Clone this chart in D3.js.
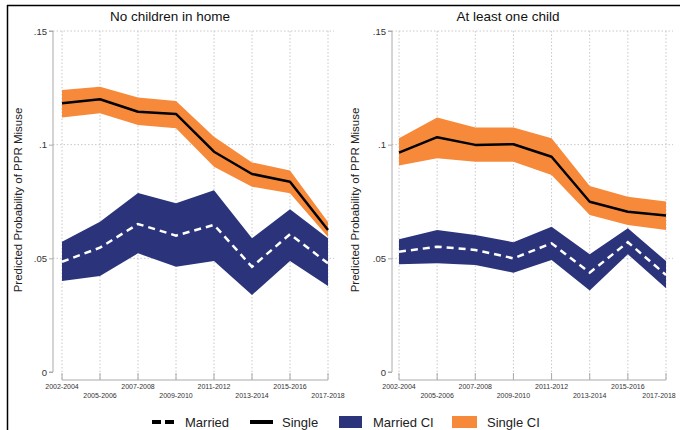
<!DOCTYPE html>
<html><head><meta charset="utf-8">
<script src="https://cdn.jsdelivr.net/npm/d3@7"></script>
<style>body{margin:0;background:#fff}svg{display:block}</style>
</head><body>
<svg id="c" width="680" height="430"></svg>
<script>
const periods = ["2002-2004","2005-2006","2007-2008","2009-2010","2011-2012","2013-2014","2015-2016","2017-2018"];
const yTicks = [0, 0.05, 0.1, 0.15];
const yTickLabels = ["0", ".05", ".1", ".15"];
const panelTitles = ["No children in home", "At least one child"];
const yLabel = "Predicted Probability of PPR Misuse";

// Panel 1: No children in home
const noChildSingle   = [0.1182,0.1200,0.1145,0.1135,0.0969,0.0871,0.0837,0.0625];
const noChildSingleHi = [0.1240,0.1255,0.1207,0.1192,0.1035,0.0922,0.0886,0.0660];
const noChildSingleLo = [0.1120,0.1138,0.1087,0.1072,0.0903,0.0815,0.0786,0.0594];
const noChildMarried   = [0.0485,0.0547,0.0651,0.0600,0.0647,0.0463,0.0606,0.0478];
const noChildMarriedHi = [0.0573,0.0661,0.0787,0.0742,0.0800,0.0588,0.0716,0.0588];
const noChildMarriedLo = [0.0400,0.0422,0.0522,0.0463,0.0488,0.0339,0.0488,0.0378];

// Panel 2: At least one child
const childSingle   = [0.0965,0.1033,0.0999,0.1002,0.0947,0.0749,0.0705,0.0688];
const childSingleHi = [0.1028,0.1120,0.1075,0.1075,0.1028,0.0818,0.0771,0.0750];
const childSingleLo = [0.0908,0.0940,0.0925,0.0925,0.0867,0.0691,0.0647,0.0625];
const childMarried   = [0.0529,0.0551,0.0537,0.0500,0.0566,0.0437,0.0571,0.0427];
const childMarriedHi = [0.0584,0.0625,0.0603,0.0571,0.0639,0.0518,0.0632,0.0488];
const childMarriedLo = [0.0474,0.0478,0.0471,0.0437,0.0493,0.0358,0.0518,0.0368];

const legendLabels = ["Married","Single","Married CI","Single CI"];
const NAVY = "#2b347a", ORANGE = "#f68a3a";

const svg = d3.select("#c");
const FONT = "Liberation Sans, Arial, sans-serif";

// frame
svg.append("line").attr("x1",7).attr("x2",680).attr("y1",5.5).attr("y2",5.5).attr("stroke","#000").attr("stroke-width",1.5);
svg.append("line").attr("x1",7.5).attr("x2",7.5).attr("y1",5).attr("y2",430).attr("stroke","#000").attr("stroke-width",1.5);

const panels = [
  {x0:62, x1:328, axisX:53, gridR:334, labelX:18, titleX:170,
   s:noChildSingle, sh:noChildSingleHi, sl:noChildSingleLo, m:noChildMarried, mh:noChildMarriedHi, ml:noChildMarriedLo},
  {x0:399, x1:666, axisX:392, gridR:673, labelX:355, titleX:508,
   s:childSingle, sh:childSingleHi, sl:childSingleLo, m:childMarried, mh:childMarriedHi, ml:childMarriedLo}
];

const y = d3.scaleLinear().domain([0,0.15]).range([372,31]);

panels.forEach((p,pi)=>{
  const x = d3.scalePoint().domain(periods).range([p.x0,p.x1]);
  const g = svg.append("g");
  // grid
  g.selectAll(".hg").data(yTicks.filter(d=>d>0)).join("line")
    .attr("x1",p.axisX).attr("x2",p.gridR).attr("y1",d=>y(d)).attr("y2",d=>y(d))
    .attr("stroke","#c8c8c8").attr("stroke-width",1).attr("stroke-dasharray","1.5,2");
  g.selectAll(".vg").data(periods).join("line")
    .attr("x1",d=>x(d)).attr("x2",d=>x(d)).attr("y1",y(0.15)).attr("y2",380)
    .attr("stroke","#c8c8c8").attr("stroke-width",1).attr("stroke-dasharray","1.5,2");

  const idx = d3.range(periods.length);
  const area = (hi,lo)=>d3.area().x(i=>x(periods[i])).y0(i=>y(lo[i])).y1(i=>y(hi[i]))(idx);
  const line = (v)=>d3.line().x(i=>x(periods[i])).y(i=>y(v[i]))(idx);

  g.append("path").attr("d",area(p.sh,p.sl)).attr("fill",ORANGE);
  g.append("path").attr("d",area(p.mh,p.ml)).attr("fill",NAVY);
  g.append("path").attr("d",line(p.s)).attr("fill","none").attr("stroke","#000").attr("stroke-width",2.5).attr("stroke-linejoin","round");
  g.append("path").attr("d",line(p.m)).attr("fill","none").attr("stroke","#fff").attr("stroke-width",2.5).attr("stroke-dasharray","7,5");

  // y axis
  const ya = d3.axisLeft(y).tickValues(yTicks).tickFormat((d,i)=>yTickLabels[i]).tickSize(4).tickPadding(2);
  const yg = g.append("g").attr("transform",`translate(${p.axisX},0)`).call(ya);
  yg.select(".domain").attr("stroke","#aaa").attr("d",`M-4,${y(0.15)}H0V${y(0)}H-4`);
  yg.selectAll(".tick line").attr("stroke","#aaa");
  yg.selectAll("text").attr("font-family",FONT).attr("font-size",9.5).attr("fill","#333");

  // x axis
  const xa = d3.axisBottom(x).tickSize(0).tickFormat("");
  const xg = g.append("g").attr("transform","translate(0,380)").call(xa);
  xg.select(".domain").attr("stroke","#aaa").attr("d",`M${p.x0},0H${p.x1}`);
  g.selectAll(".xt").data(periods).join("line")
    .attr("x1",d=>x(d)).attr("x2",d=>x(d)).attr("y1",373).attr("y2",380).attr("stroke","#aaa");
  g.selectAll(".xl").data(periods).join("text")
    .attr("x",d=>Math.min(x(d), 659)).attr("y",(d,i)=> i%2===0 ? 389 : 398)
    .attr("text-anchor","middle").attr("font-family",FONT).attr("font-size",7)
    .attr("fill","#333").text(d=>d);

  // title
  g.append("text").attr("x",p.titleX).attr("y",21).attr("text-anchor","middle")
    .attr("font-family",FONT).attr("font-size",13.5).attr("fill","#111").text(panelTitles[pi]);
  // y label
  g.append("text").attr("transform",`translate(${p.labelX},200) rotate(-90)`).attr("text-anchor","middle")
    .attr("dy","0.35em").attr("font-family",FONT).attr("font-size",11.5).attr("fill","#222").text(yLabel);
});

// legend
const lg = svg.append("g").attr("font-family",FONT).attr("font-size",13).attr("fill","#222");
const ly = 422;
lg.append("line").attr("x1",152).attr("x2",177).attr("y1",ly).attr("y2",ly).attr("stroke","#000").attr("stroke-width",4).attr("stroke-dasharray","9,4");
lg.append("text").attr("x",185).attr("y",ly).attr("dy","0.35em").text(legendLabels[0]);
lg.append("line").attr("x1",250).attr("x2",273).attr("y1",ly).attr("y2",ly).attr("stroke","#000").attr("stroke-width",4);
lg.append("text").attr("x",282).attr("y",ly).attr("dy","0.35em").text(legendLabels[1]);
lg.append("rect").attr("x",339).attr("y",ly-6).attr("width",23).attr("height",12).attr("fill",NAVY);
lg.append("text").attr("x",373).attr("y",ly).attr("dy","0.35em").text(legendLabels[2]);
lg.append("rect").attr("x",452).attr("y",ly-6).attr("width",25).attr("height",12).attr("fill",ORANGE);
lg.append("text").attr("x",487).attr("y",ly).attr("dy","0.35em").text(legendLabels[3]);
</script>
</body></html>
